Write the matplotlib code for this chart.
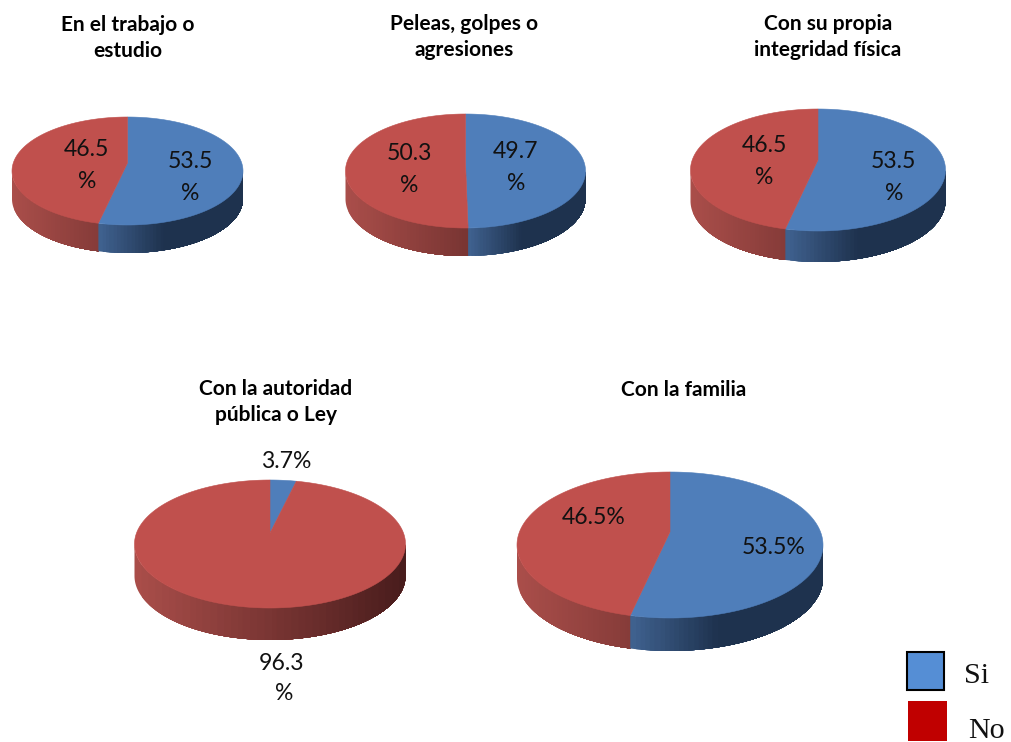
import matplotlib
matplotlib.use('Agg')
import matplotlib.pyplot as plt
import numpy as np
from matplotlib.patches import Rectangle

titles = ['En el trabajo o\nestudio', 'Peleas, golpes o\nagresiones', 'Con su propia\nintegridad física',
          'Con la autoridad\npública o Ley', 'Con la familia']
si_values = [53.5, 49.7, 53.5, 3.7, 53.5]
no_values = [46.5, 50.3, 46.5, 96.3, 46.5]

BLUE = np.array([79, 126, 186]) / 255
RED = np.array([192, 80, 77]) / 255


def arc(p, t):
    # circle seen in perspective: the centre (apex) sits above the middle of the ellipse
    top = p['cy'] - p['ry']
    bot = p['cy'] + p['ry']
    up = p['apex'] - top
    down = bot - p['apex']
    a = (down - up) / (down + up)
    b = up * (1 + a)
    c = p['rx'] * np.sqrt(1 - ((p['apex'] - p['cy']) / p['ry']) ** 2)
    w = 1 + a * np.cos(t)
    return p['cx'] + c * np.sin(t) / w, p['apex'] - b * np.cos(t) / w


def blue_wall(f):
    light = np.array([64, 98, 144]) / 255
    dark = np.array([30, 50, 78]) / 255
    return light + (dark - light) * min(f / 0.45, 1)


def red_wall(f):
    light = np.array([170, 78, 74]) / 255
    dark = np.array([72, 28, 28]) / 255
    return light + (dark - light) * f


def draw_wall(ax, p, t0, t1, colorfunc, by_slice):
    ts = np.linspace(t0, t1, 400)
    xs, ys = arc(p, ts)
    keep = ys >= p['cy']  # only the front half of the rim can be seen
    if keep.sum() < 2:
        return
    xs = xs[keep]
    ys = ys[keep]
    left = xs.min() if by_slice else p['cx'] - p['rx']
    right = xs.max() if by_slice else p['cx'] + p['rx']
    # bands painted from left to right, each one lying on top of the rest of the rim
    bands = 40
    edges = np.linspace(xs.min(), xs.max(), bands + 1)
    for i in range(bands):
        inside = xs >= edges[i]
        if inside.sum() < 2:
            continue
        f = ((edges[i] + edges[i + 1]) / 2 - left) / (right - left)
        ax.fill(np.r_[xs[inside], xs[inside][::-1]], np.r_[ys[inside], ys[inside][::-1] + p['depth']],
                color=colorfunc(np.clip(f, 0, 1)), lw=0, zorder=2)


def draw_pie(ax, p, si, no):
    t_split = 2 * np.pi * si / (si + no)
    draw_wall(ax, p, t_split, 2 * np.pi, red_wall, False)
    draw_wall(ax, p, 0, t_split, blue_wall, True)
    for t0, t1, col in [(0, t_split, BLUE), (t_split, 2 * np.pi, RED)]:
        ts = np.linspace(t0, t1, 200)
        xs, ys = arc(p, ts)
        ax.fill(np.r_[p['cx'], xs], np.r_[p['apex'], ys], color=col, lw=0.4, zorder=3)


pies = [
    dict(cx=127.5, cy=171, rx=115.5, ry=54, apex=163, depth=28),
    dict(cx=465.5, cy=171, rx=120, ry=57, apex=163, depth=28),
    dict(cx=818, cy=170, rx=127.5, ry=61, apex=160, depth=31),
    dict(cx=270, cy=544, rx=135.5, ry=64, apex=533, depth=32),
    dict(cx=670, cy=545, rx=153, ry=73, apex=532, depth=33),
]
title_pos = [(128, 38), (464, 37), (828, 37), (276, 402), (684, 390)]
si_text_pos = [(190, 161), (516, 151), (893, 161), (286, 462), (774, 548)]
no_text_pos = [(86, 149), (409, 154), (764, 145), (282, 663), (594, 517)]
si_pct_pos = [(190, 193), (516, 183), (894, 193), None, None]
no_pct_pos = [(87, 181), (409, 185), (764, 177), (284, 694), None]

plt.rcParams['font.family'] = ['Lato', 'DejaVu Sans']
fig = plt.figure(figsize=(10.11, 7.42), dpi=100)
ax = fig.add_axes([0, 0, 1, 1])
ax.set_xlim(0, 1011)
ax.set_ylim(742, 0)
ax.axis('off')

LABEL_SIZE = 16.6
for i, p in enumerate(pies):
    draw_pie(ax, p, si_values[i], no_values[i])
    ax.text(title_pos[i][0], title_pos[i][1], titles[i], ha='center', va='center',
            fontsize=15, fontweight='bold', linespacing=1.35, zorder=5)
    for val, pos, pct in [(si_values[i], si_text_pos[i], si_pct_pos[i]),
                          (no_values[i], no_text_pos[i], no_pct_pos[i])]:
        s = f'{val}' if pct is not None else f'{val}%'
        ax.text(pos[0], pos[1], s, ha='center', va='center', fontsize=LABEL_SIZE,
                color='#111111', zorder=5)
        if pct is not None:
            ax.text(pct[0], pct[1], '%', ha='center', va='center', fontsize=LABEL_SIZE,
                    color='#111111', zorder=5)

# leyenda
ax.add_patch(Rectangle((907, 652), 37, 38, facecolor='#558ED5', edgecolor='black', lw=1.5, zorder=4))
ax.add_patch(Rectangle((908, 701), 39, 40, facecolor='#C00000', edgecolor='none', zorder=4))
ax.text(964, 676, 'Si', family='Liberation Serif', fontsize=21.6, ha='left', va='center', color='#111111')
ax.text(968, 731, 'No', family='Liberation Serif', fontsize=21.6, ha='left', va='center', color='#111111')

fig.savefig('out.png', dpi=100)
